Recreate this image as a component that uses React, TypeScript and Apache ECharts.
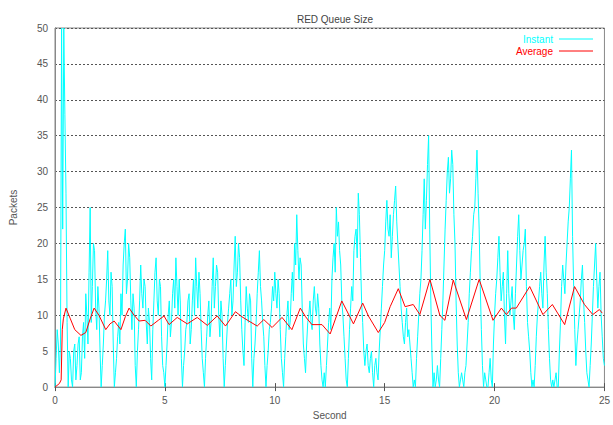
import React, { useEffect, useRef } from "react";
import * as echarts from "echarts";

const TITLE = "RED Queue Size";
const X_NAME = "Second";
const Y_NAME = "Packets";
const LEGEND_NAMES = ["Instant", "Average"];

// Instantaneous queue size, read every 0.1 s from t = 0 to t = 25
const INSTANT_STEP = 0.1;
const instantValues = [
  0, 8, 2, 50, 50, 27, 0, 4, 0, 6,
  3, 7, 2, 9, 13, 6, 25, 14, 19, 8,
  11, 0, 6, 12, 19, 10, 14, 0, 4, 9,
  13, 17, 22, 15, 18, 8, 11, 0, 8, 17,
  11, 14, 6, 9, 1, 12, 18, 10, 14, 3,
  0, 6, 12, 9, 15, 18, 10, 12, 0, 5,
  9, 13, 8, 15, 18, 11, 13, 4, 0, 7,
  12, 9, 18, 14, 16, 7, 10, 0, 6, 11,
  15, 12, 21, 16, 18, 8, 3, 14, 9, 12,
  0, 6, 13, 19, 12, 7, 0, 5, 9, 14,
  16, 11, 13, 4, 0, 7, 12, 9, 16, 20,
  24, 15, 17, 6, 2, 9, 12, 8, 14, 10,
  11, 3, 0, 0, 6, 11, 15, 20, 25, 23,
  17, 10, 4, 0, 8, 14, 19, 22, 27, 18,
  9, 3, 6, 2, 5, 0, 4, 1, 8, 14,
  19, 26, 21, 18, 24, 28, 20, 14, 9, 6,
  11, 8, 4, 0, 0, 7, 13, 19, 29, 26,
  35, 12, 0, 0, 3, 0, 8, 17, 26, 32,
  29, 31, 20, 6, 0, 2, 0, 3, 9, 16,
  21, 25, 33, 22, 8, 0, 1, 0, 4, 0,
  10, 15, 21, 12, 16, 6, 19, 10, 14, 8,
  17, 24, 15, 19, 22, 9, 5, 0, 0, 7,
  12, 16, 11, 21, 13, 4, 0, 0, 2, 0,
  9, 17, 13, 20, 25, 33, 14, 3, 8, 12,
  17, 9, 2, 0, 6, 14, 20, 11, 16, 7,
  3,
];
// Instantaneous queue size read half-way between the samples above (t = 0.05, 0.15, ...)
const instantMidValues = [
  4, 6, 6, 22, 38, 9, 5, 1, 5, 1,
  6, 1, 7, 4, 10, 16, 9, 20, 11, 14,
  5, 3, 10, 15, 12, 16, 6, 2, 7, 6,
  10, 20, 13, 20, 12, 13, 3, 5, 12, 13,
  15, 9, 11, 4, 8, 16, 12, 15, 7, 2,
  3, 10, 7, 13, 11, 14, 15, 4, 3, 8,
  12, 6, 12, 10, 14, 16, 8, 2, 4, 10,
  7, 14, 11, 17, 10, 12, 4, 3, 9, 13,
  10, 17, 14, 20, 12, 5, 9, 11, 13, 4,
  4, 9, 16, 14, 9, 3, 3, 8, 11, 12,
  13, 15, 8, 2, 4, 10, 8, 13, 12, 17,
  19, 18, 11, 4, 6, 10, 9, 12, 11, 13,
  6, 1, 2, 3, 9, 8, 18, 16, 21, 19,
  12, 7, 1, 4, 11, 12, 21, 18, 24, 12,
  5, 5, 3, 4, 2, 3, 2, 5, 11, 17,
  23, 22, 24, 21, 26, 23, 17, 11, 7, 9,
  7, 6, 2, 1, 4, 10, 15, 24, 22, 31,
  22, 5, 2, 1, 1, 4, 12, 22, 30, 27,
  33, 24, 12, 2, 1, 1, 2, 6, 13, 19,
  24, 29, 27, 14, 3, 2, 0, 2, 1, 6,
  13, 18, 16, 14, 10, 13, 13, 12, 10, 13,
  21, 19, 17, 20, 14, 7, 2, 1, 3, 10,
  14, 13, 17, 16, 8, 1, 1, 1, 0, 5,
  14, 15, 17, 23, 29, 21, 8, 6, 10, 15,
  12, 5, 1, 3, 10, 17, 15, 14, 10, 4,
];

// Average queue size
const avgTimes = [
  0, 0.2, 0.28, 0.33, 0.38, 0.5, 0.7, 0.9, 1.18, 1.4, 1.6, 1.78, 2.0, 2.31, 2.5,
  2.69, 3.0, 3.2, 3.37, 3.6, 3.83, 4.1, 4.36, 4.7, 4.96, 5.19, 5.56, 6.02, 6.47,
  6.93, 7.38, 7.76, 8.21, 8.5, 8.82, 9.2, 9.5, 9.88, 10.33, 10.78, 11.16, 11.4,
  11.69, 12.15, 12.52, 13.05, 13.58, 14.0, 14.26, 14.71, 15.0, 15.25, 15.62,
  15.93, 16.3, 16.6, 17.06, 17.51, 17.74, 18.12, 18.72, 19.3, 19.93, 20.31,
  20.54, 20.77, 20.99, 21.6, 22.2, 22.63, 23.19, 23.64, 24.09, 24.47, 24.77, 24.9,
];
const avgValues = [
  0, 0.5, 1, 8, 9.5, 11, 9.5, 8, 7.2, 7.6, 9.5, 11, 10, 8.0, 8.8,
  9.2, 8.0, 9.8, 11, 10, 9.2, 9.3, 8.5, 9.3, 9.9, 8.7, 9.7, 8.8, 9.7,
  8.6, 9.9, 8.5, 10.5, 9.8, 9.2, 8.5, 9.4, 8.3, 9.7, 8.0, 11, 9.8,
  8.7, 8.7, 7.4, 12, 8.8, 11.7, 9.9, 7.6, 9, 11.2, 13.7,
  11.2, 11.5, 10.1, 15, 10, 9.3, 14.9, 9.4, 15, 9.3, 11,
  10.1, 11, 11, 14, 10.1, 11.5, 8.7, 14, 11.5, 10.1, 10.8, 10.3,
];

const X_MIN = 0;
const X_MAX = 25;
const X_INTERVAL = 5;
const Y_MIN = 0;
const Y_MAX = 50;
const Y_INTERVAL = 5;

const CYAN = "#00ffff";
const RED = "#ff0000";
const FONT = "Liberation Sans, Arial, sans-serif";

export default function App() {
  const ref = useRef<HTMLDivElement>(null);

  useEffect(() => {
    if (!ref.current) return;
    const chart = echarts.init(ref.current, undefined, { renderer: "svg" });

    const instantData: number[][] = [];
    instantValues.forEach((v, i) => {
      const t = Math.round(i * INSTANT_STEP * 100) / 100;
      instantData.push([t, v]);
      if (i < instantMidValues.length) {
        instantData.push([Math.round((t + INSTANT_STEP / 2) * 100) / 100, instantMidValues[i]]);
      }
    });
    const avgData = avgTimes.map((t, i) => [t, avgValues[i]]);

    const labelStyle = { color: "#555", fontSize: 10, fontFamily: FONT };
    const axisLine = { show: true, lineStyle: { color: "#888", width: 1 } };

    chart.setOption({
      animation: false,
      backgroundColor: "#ffffff",
      textStyle: { fontFamily: FONT },
      title: {
        text: TITLE,
        left: 330,
        top: 9,
        textAlign: "center",
        textStyle: { fontSize: 10, fontWeight: "normal", color: "#444", fontFamily: FONT },
      },
      grid: {
        left: 54,
        right: 8,
        top: 28,
        bottom: 31,
        show: true,
        borderColor: "#888",
        borderWidth: 1,
        containLabel: false,
      },
      xAxis: [
        {
          type: "value",
          min: X_MIN,
          max: X_MAX,
          interval: X_INTERVAL,
          name: X_NAME,
          nameLocation: "middle",
          nameGap: 22,
          nameTextStyle: { color: "#555", fontSize: 10, fontFamily: FONT },
          axisLine,
          axisTick: { show: true, inside: true, length: 4, lineStyle: { color: "#555" } },
          axisLabel: { ...labelStyle, margin: 8 },
          splitLine: { show: false },
        },
        {
          type: "value",
          position: "top",
          min: X_MIN,
          max: X_MAX,
          interval: X_INTERVAL,
          axisLine,
          axisTick: { show: true, inside: true, length: 4, lineStyle: { color: "#555" } },
          axisLabel: { show: false },
          splitLine: { show: false },
        },
      ],
      yAxis: [
        {
          type: "value",
          min: Y_MIN,
          max: Y_MAX,
          interval: Y_INTERVAL,
          name: Y_NAME,
          nameLocation: "middle",
          nameGap: 37,
          nameTextStyle: { color: "#555", fontSize: 10, fontFamily: FONT },
          axisLine,
          axisTick: { show: false },
          axisLabel: { ...labelStyle, margin: 7 },
          splitLine: {
            show: true,
            lineStyle: { color: "#555", type: [2, 2], width: 1 },
          },
        },
        {
          type: "value",
          position: "right",
          min: Y_MIN,
          max: Y_MAX,
          interval: Y_INTERVAL,
          axisLine,
          axisTick: { show: false },
          axisLabel: { show: false },
          splitLine: { show: false },
        },
      ],
      series: [
        {
          name: LEGEND_NAMES[0],
          type: "line",
          data: instantData,
          showSymbol: false,
          symbol: "none",
          lineStyle: { color: CYAN, width: 1 },
          itemStyle: { color: CYAN },
          z: 2,
        },
        {
          name: LEGEND_NAMES[1],
          type: "line",
          data: avgData,
          showSymbol: false,
          symbol: "none",
          lineStyle: { color: RED, width: 1 },
          itemStyle: { color: RED },
          z: 3,
        },
      ],
      graphic: [
        {
          type: "text",
          x: 553,
          y: 39,
          style: {
            text: LEGEND_NAMES[0],
            fill: CYAN,
            fontSize: 10,
            fontFamily: FONT,
            textAlign: "right",
            textVerticalAlign: "middle",
          },
        },
        {
          type: "line",
          shape: { x1: 559, y1: 39, x2: 593, y2: 39 },
          style: { stroke: CYAN, lineWidth: 1 },
        },
        {
          type: "text",
          x: 553,
          y: 51,
          style: {
            text: LEGEND_NAMES[1],
            fill: RED,
            fontSize: 10,
            fontFamily: FONT,
            textAlign: "right",
            textVerticalAlign: "middle",
          },
        },
        {
          type: "line",
          shape: { x1: 559, y1: 51, x2: 593, y2: 51 },
          style: { stroke: RED, lineWidth: 1 },
        },
      ],
    });

    return () => chart.dispose();
  }, []);

  return (
    <div
      ref={ref}
      style={{ position: "fixed", left: 0, top: 0, width: 613, height: 425, background: "#fff" }}
    />
  );
}
